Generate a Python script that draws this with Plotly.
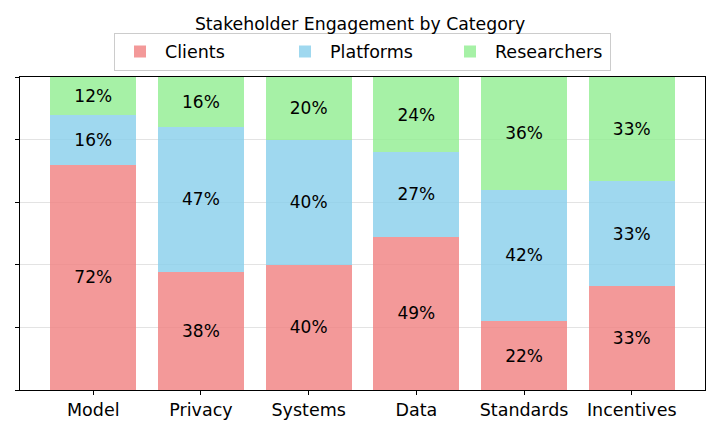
import plotly.graph_objects as go

categories = ["Model", "Privacy", "Systems", "Data", "Standards", "Incentives"]
clients = [72, 38, 40, 49, 22, 33]
platforms = [16, 47, 40, 27, 42, 33]
researchers = [12, 16, 20, 24, 36, 33]
series_names = ["Clients", "Platforms", "Researchers"]
colors = ["rgba(240,128,128,0.8)", "rgba(135,206,235,0.8)", "rgba(144,238,144,0.8)"]

FONT = "DejaVu Sans"
fig = go.Figure()
for name, vals, col in zip(series_names, [clients, platforms, researchers], colors):
    fig.add_trace(go.Bar(
        x=categories, y=vals, name=name,
        marker=dict(color=col, line=dict(width=0)),
        text=[f"{v}%" for v in vals],
        textposition="inside", insidetextanchor="middle", textangle=0,
        constraintext="none",
        textfont=dict(family=FONT, size=17, color="black"),
        width=0.8,
    ))

fig.update_layout(
    barmode="stack", barnorm="percent",
    width=720, height=432,
    margin=dict(l=19.5, r=14.5, t=77, b=40),
    paper_bgcolor="white", plot_bgcolor="white",
    font=dict(family=FONT, size=17, color="black"),
    title=dict(text="Stakeholder Engagement by Category", x=0.5, xanchor="center",
               y=0.945, yanchor="middle", font=dict(family=FONT, size=17.3, color="black")),
    legend=dict(orientation="h", x=0.5, xanchor="center", y=1.02, yanchor="bottom",
                bordercolor="#cccccc", borderwidth=1, font=dict(family=FONT, size=17.5),
                itemwidth=40, traceorder="normal", entrywidth=110, entrywidthmode="pixels"),
    showlegend=True,
)
fig.update_xaxes(range=[-0.68, 5.68], showline=True, linecolor="black", linewidth=1,
                 mirror=True, ticks="outside", ticklen=4, tickcolor="black",
                 tickfont=dict(family=FONT, size=17.5), showgrid=False)
fig.update_yaxes(range=[0, 100], showline=True, linecolor="black", linewidth=1,
                 mirror=True, ticks="outside", ticklen=4, tickcolor="black",
                 showticklabels=False, dtick=20, showgrid=True,
                 gridcolor="rgba(200,200,200,0.5)", gridwidth=1, zeroline=False)

fig.write_html("out.html", config={"displayModeBar": False},
               post_script="document.body.style.margin='0';")
